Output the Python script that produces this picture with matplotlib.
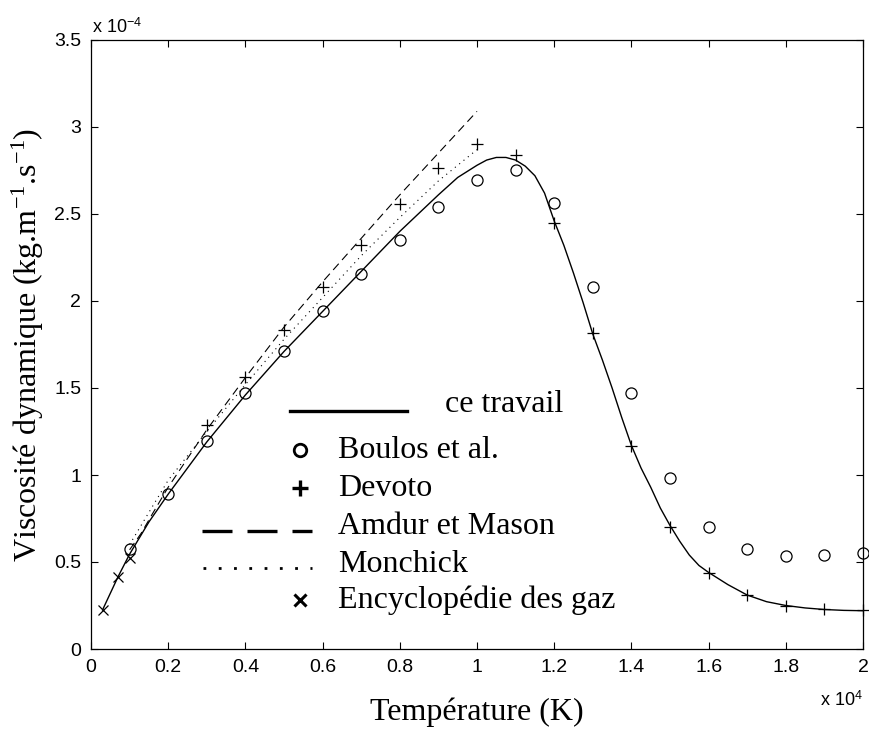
import numpy as np
import matplotlib
matplotlib.use("Agg")
import matplotlib.pyplot as plt
from matplotlib.ticker import FixedLocator, FuncFormatter

plt.rcParams["mathtext.fontset"] = "custom"
plt.rcParams["mathtext.rm"] = "Liberation Serif"
plt.rcParams["mathtext.it"] = "Liberation Serif:italic"
plt.rcParams["mathtext.sf"] = "Liberation Sans"

# viscosity values are in units of 1e-4 kg/m/s, temperature in K
temp_travail = [300, 700, 1000, 1500, 2000, 3000, 4000, 5000, 6000, 7000, 8000,
                9000, 9500, 10000, 10250, 10500, 10750, 11000, 11250, 11500,
                11750, 12000, 12250, 12500, 12750, 13000, 13250, 13500, 13750,
                14000, 14250, 14500, 14750, 15000, 15250, 15500, 15750, 16000,
                16500, 17000, 17500, 18000, 18500, 19000, 19500, 20000]
visc_travail = [0.225, 0.415, 0.545, 0.73, 0.89, 1.19, 1.46, 1.71, 1.94, 2.17,
                2.40, 2.61, 2.71, 2.78, 2.81, 2.825, 2.825, 2.81, 2.775, 2.72,
                2.62, 2.46, 2.32, 2.16, 1.99, 1.81, 1.66, 1.50, 1.33, 1.17,
                1.04, 0.93, 0.81, 0.71, 0.62, 0.54, 0.48, 0.44, 0.37, 0.31,
                0.272, 0.25, 0.236, 0.227, 0.222, 0.22]

temp_boulos = [1000, 2000, 3000, 4000, 5000, 6000, 7000, 8000, 9000, 10000,
               11000, 12000, 13000, 14000, 15000, 16000, 17000, 18000, 19000, 20000]
visc_boulos = [0.573, 0.893, 1.195, 1.47, 1.715, 1.94, 2.153, 2.35, 2.54, 2.695,
               2.75, 2.565, 2.082, 1.47, 0.983, 0.703, 0.575, 0.534, 0.538, 0.55]

temp_devoto = [3000, 4000, 5000, 6000, 7000, 8000, 9000, 10000, 11000, 12000,
               13000, 14000, 15000, 16000, 17000, 18000, 19000, 20000]
visc_devoto = [1.287, 1.565, 1.833, 2.083, 2.32, 2.557, 2.766, 2.90, 2.84, 2.447,
               1.814, 1.168, 0.703, 0.439, 0.31, 0.249, 0.23, 0.225]

temp_amdur = [1000, 1300, 1600, 2000, 3000, 4000, 5000, 6000, 7000, 8000, 9000, 10000]
visc_amdur = [0.57, 0.665, 0.78, 0.93, 1.26, 1.56, 1.85, 2.11, 2.36, 2.61, 2.85, 3.09]

temp_monchick = [1000, 2000, 3000, 4000, 5000, 6000, 7000, 8000, 9000, 10000]
visc_monchick = [0.60, 0.97, 1.25, 1.52, 1.78, 2.02, 2.26, 2.48, 2.69, 2.87]

temp_encyclo = [300, 700, 1000]
visc_encyclo = [0.224, 0.416, 0.521]

labels = ["ce travail", "Boulos et al.", "Devoto", "Amdur et Mason",
          "Monchick", "Encyclopédie des gaz"]

serif = "Liberation Serif"
sans = "Liberation Sans"

W, H = 869, 731
fig = plt.figure(figsize=(W / 100, H / 100), dpi=100)
ax = fig.add_axes([91 / W, (H - 649) / H, 772 / W, 609 / H])


def scale(v):
    return np.array(v) * 1e-4


ax.plot(temp_travail, scale(visc_travail), color="black", lw=1.0)
ax.plot(temp_amdur, scale(visc_amdur), color="black", lw=0.8, dashes=(7.5, 4.5))
ax.plot(temp_monchick, scale(visc_monchick), color="black", lw=0.8, dashes=(1, 4))
ax.plot(temp_boulos, scale(visc_boulos), "o", ms=8, mfc="none", mec="black",
        mew=0.9, clip_on=False)
ax.plot(temp_devoto, scale(visc_devoto), "+", ms=8, mec="black", mew=0.9,
        clip_on=False)
ax.plot(temp_encyclo, scale(visc_encyclo), "x", ms=7, mec="black", mew=0.9,
        clip_on=False)

ax.set_xlim(0, 20000)
ax.set_ylim(0, 3.5e-4)
ax.xaxis.set_major_locator(FixedLocator(np.arange(0, 20001, 2000)))
ax.yaxis.set_major_locator(FixedLocator(np.arange(0, 3.51e-4, 0.5e-4)))
ax.xaxis.set_major_formatter(FuncFormatter(lambda v, p: "%g" % round(v / 1e4, 3)))
ax.yaxis.set_major_formatter(FuncFormatter(lambda v, p: "%g" % round(v / 1e-4, 3)))
ax.tick_params(direction="in", length=5, width=0.8, top=True, right=True,
               labelsize=14, pad=7)
for lab in ax.get_xticklabels() + ax.get_yticklabels():
    lab.set_fontfamily(sans)
for s in ax.spines.values():
    s.set_linewidth(0.9)

ax.set_xlabel("Température (K)", fontfamily=serif, fontsize=23, labelpad=16)
ax.set_ylabel("Viscosité dynamique (kg.m$^{-1}$.s$^{-1}$)", fontfamily=serif,
              fontsize=23, labelpad=6)

fig.text(92 / W, 1 - 27 / H, r"x 10$^{\mathsf{-4}}$", fontfamily=sans,
         fontsize=13, ha="left", va="center")
fig.text(863 / W, 1 - 700 / H, r"x 10$^{\mathsf{4}}$", fontfamily=sans,
         fontsize=13, ha="right", va="center")


# legend drawn by hand to keep the MATLAB layout
def fx(px):
    return px / W


def fy(py):
    return 1 - py / H


tr = fig.transFigure
fig.lines.append(plt.Line2D([fx(290), fx(407)], [fy(411), fy(411)], color="black",
                            lw=2.4, transform=tr))
fig.lines.append(plt.Line2D([fx(300)], [fy(450)], marker="o", ms=9, mfc="none",
                            mec="black", mew=2.0, transform=tr))
fig.lines.append(plt.Line2D([fx(300)], [fy(488)], marker="+", ms=11,
                            mec="black", mew=2.4, transform=tr))
fig.lines.append(plt.Line2D([fx(202), fx(312)], [fy(531), fy(531)], color="black",
                            lw=2.4, dashes=(9, 4.5), transform=tr))
fig.lines.append(plt.Line2D([fx(203), fx(312)], [fy(568), fy(568)], color="black",
                            lw=2.0, dashes=(1, 4.5), transform=tr))
fig.lines.append(plt.Line2D([fx(300)], [fy(600)], marker="x", ms=9,
                            mec="black", mew=2.2, transform=tr))

label_pos = [(445, 405), (338, 450), (338, 488), (338, 527), (338, 565), (338, 600)]
for lab, (px, py) in zip(labels, label_pos):
    fig.text(fx(px), fy(py), lab, fontfamily=serif, fontsize=23, ha="left",
             va="center")

fig.savefig("out.png", dpi=100)
